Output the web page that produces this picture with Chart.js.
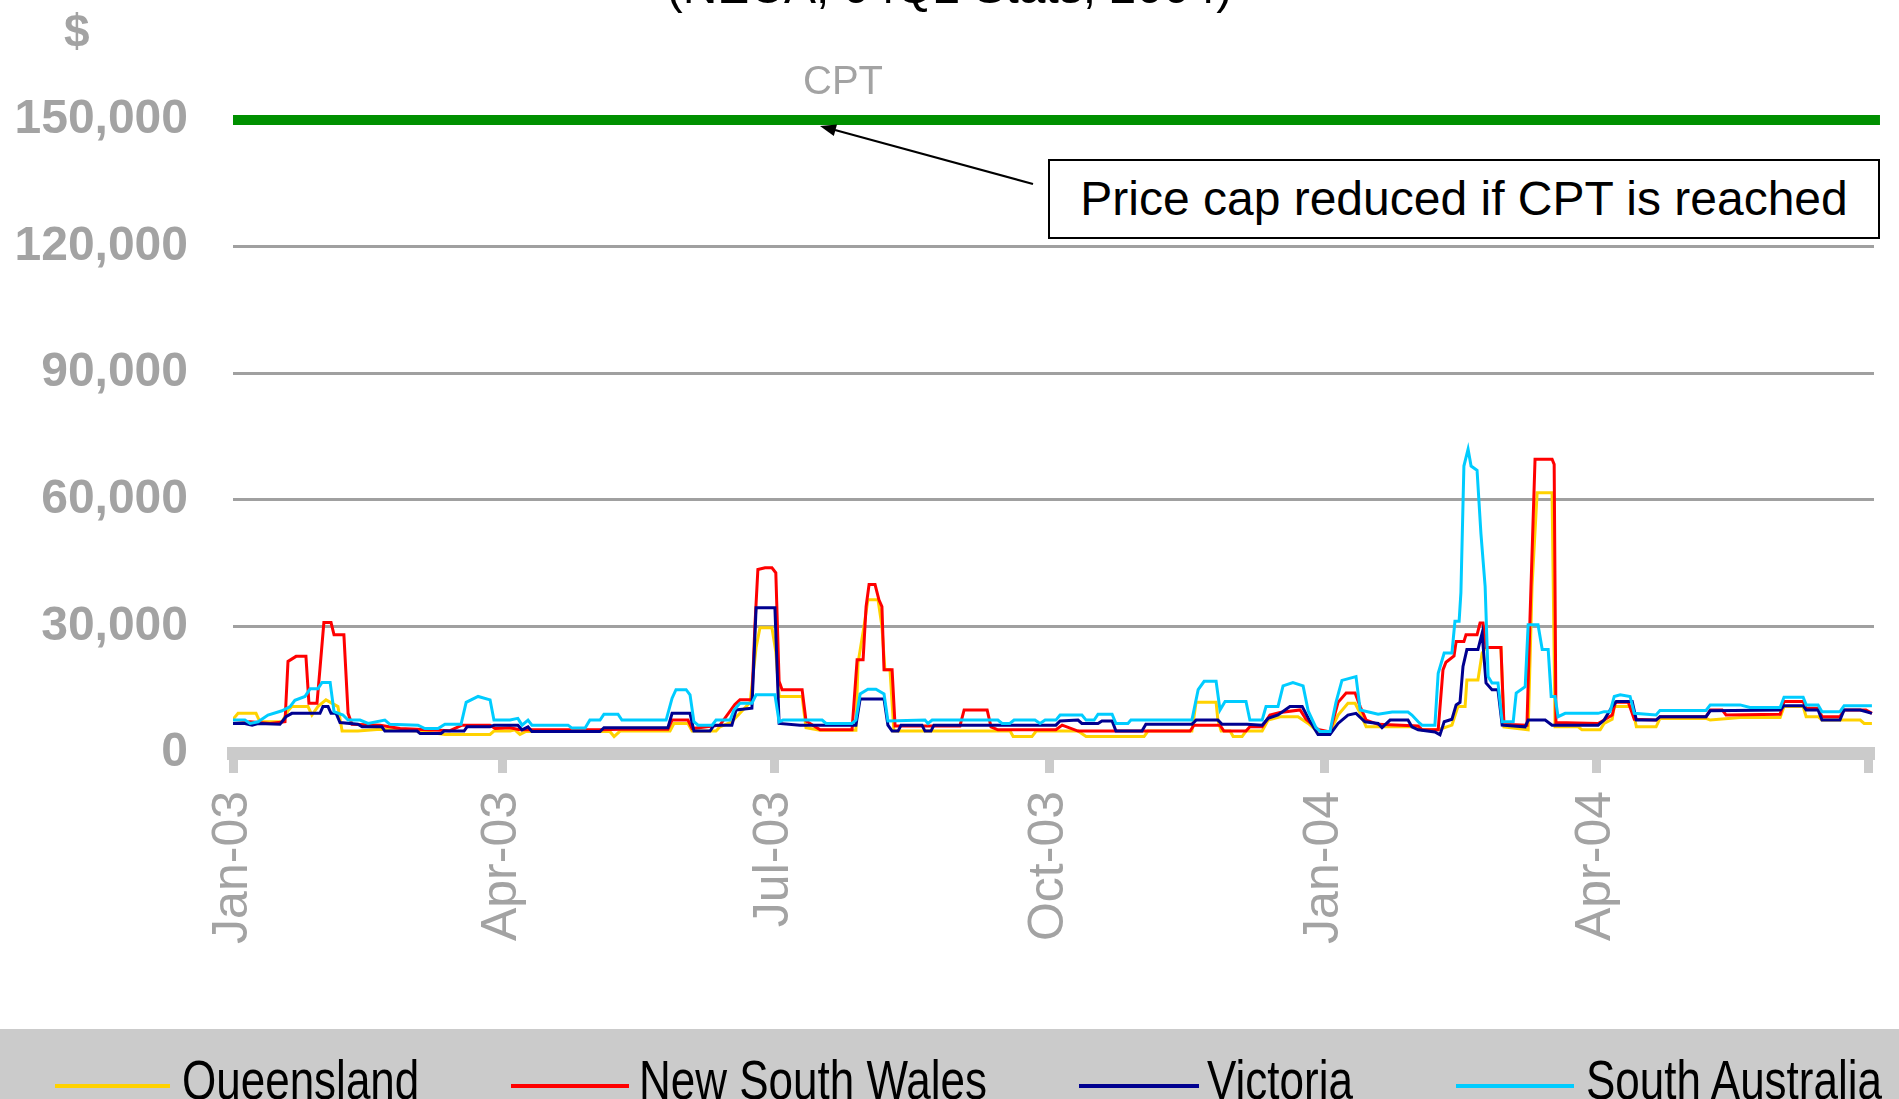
<!DOCTYPE html>
<html lang="en">
<head>
<meta charset="UTF-8">
<title>Cumulative Price Threshold - NEM regions</title>
<script src="https://cdn.jsdelivr.net/npm/chart.js"></script>
<style>
  html, body { margin: 0; padding: 0; background: #fff; }
  body { width: 1899px; height: 1099px; overflow: hidden; position: relative; font-family: "Liberation Sans", Arial, sans-serif; }
  #chart { position: absolute; left: 0; top: 0; }
  .txt { position: absolute; white-space: nowrap; line-height: 1; }
  #title { left: 0; width: 1899px; top: -37px; text-align: center; font-size: 48px; color: #000; }
  #dollar { left: 64px; top: 8px; font-size: 46px; font-weight: bold; color: #a3a3a3; }
  #cpt { left: 803px; top: 60px; font-size: 40px; color: #a3a3a3; }
  #note { position: absolute; left: 1048px; top: 159px; width: 828px; height: 76px; border: 2px solid #000; background: #fff;
          font-size: 48px; line-height: 76px; text-align: center; white-space: nowrap; }
  #legend { position: absolute; left: 0; top: 1029px; width: 1899px; height: 70px; background: #cbcbcb; }
  .swatch { position: absolute; height: 4px; top: 55px; }
  .ltxt { position: absolute; top: 24px; font-size: 44px; line-height: 44px; color: #000; white-space: nowrap;
          transform: scaleY(1.25); transform-origin: 0 0; }
</style>
</head>
<body>
<canvas id="chart" width="1899" height="1099"></canvas>
<svg style="position:absolute;left:0;top:0" width="1899" height="1099">
  <line x1="1033" y1="184" x2="835" y2="130" stroke="#000" stroke-width="2.2"/>
  <polygon points="820,126 837,124.4 833.8,136" fill="#000"/>
</svg>
<div class="txt" id="title">(NECA, 04Q2 Stats, 2004)</div>
<div class="txt" id="dollar">$</div>
<div class="txt" id="cpt">CPT</div>
<div id="note">Price cap reduced if CPT is reached</div>
<div id="legend"></div>

<script>
// days since 1 Jan 2003, rolling cumulative price ($)
const queensland = [[0,8000],[1.7,9400],[7.7,9400],[9,7400],[16.4,7400],[18.4,10000],[19.7,11000],[25.1,11000],[26.4,9000],[28.4,11000],[31.1,12600],[35.1,11000],[36.5,5200],[41.8,5200],[49.2,5600],[62.6,5200],[70.9,4400],[86,4400],[87.3,5200],[92.7,5200],[94.3,5500],[96,4400],[98,5100],[126.1,5100],[127.5,3900],[129.5,5200],[146.2,5200],[147.5,7000],[152.2,7000],[153.6,5200],[161.6,5200],[162.9,6200],[166.9,7400],[173,12000],[175,25000],[176.3,29700],[180.3,29700],[181.6,24000],[182.7,13400],[190.4,13400],[191.7,6000],[196.4,5400],[208.4,5400],[209.1,21300],[211.1,30000],[212.4,36300],[215.8,36300],[217.1,30000],[218.1,19700],[219.8,19700],[221.1,5200],[260,5200],[261,3900],[267.3,3900],[268.7,5200],[282.7,5200],[285.4,3900],[304.8,3900],[306.1,5200],[320.8,5200],[322.2,12000],[328.9,12000],[329.5,7800],[330.6,5200],[333.6,5200],[334.6,3900],[337.6,3900],[338.9,5200],[344.3,5200],[346.3,7800],[350.3,8600],[356.3,8600],[359.7,7000],[363,5000],[367,5000],[369.7,9000],[373,11800],[375.4,11800],[377.1,9400],[379.1,6200],[396.5,6200],[397.8,5500],[403.2,5500],[407.8,6600],[409.8,11000],[412.2,11000],[412.8,17300],[416.5,17300],[417.9,23700],[419.2,25000],[424.2,25000],[425.2,6200],[433.3,5500],[434.6,39500],[436.3,61700],[441.3,61700],[442.3,6200],[450,6200],[451.3,5500],[457.4,5500],[458.7,7000],[461.4,8000],[462.1,11000],[468.1,11000],[469.5,6200],[476.1,6200],[477.4,8200],[492.8,8200],[494.2,7800],[504.2,8400],[517.6,8400],[518.9,11000],[525.3,11000],[526.3,8600],[530.3,8600],[531.6,7800],[544.4,7800],[545.7,7000],[548.3,7000]];

const newSouthWales = [[0,7000],[5.7,7400],[12.4,7000],[17.4,7400],[18.4,21700],[21.1,22900],[24.4,22900],[25.4,11800],[28.1,11800],[29.1,20000],[30.4,30900],[32.8,30900],[33.8,28000],[37.1,28000],[38.5,9400],[39.8,6800],[49.2,6600],[55.9,5800],[72.6,5300],[76.6,6600],[86,6600],[87.7,5800],[92.7,6000],[96,5500],[122.8,5500],[129.5,5600],[145.5,5600],[146.9,7800],[152.2,7800],[153.6,5800],[162.9,6600],[167.9,11500],[169.6,12600],[173.6,12600],[174.6,30000],[175.6,43500],[178,43900],[180.3,43900],[181.6,42700],[182.7,17000],[183.7,15000],[190.4,15000],[191.7,7600],[196.4,5500],[207.1,5500],[208.8,22100],[210.8,22100],[211.8,34700],[212.8,39900],[214.8,39900],[216.1,36300],[217.1,34700],[217.8,19700],[220.5,19700],[221.5,6400],[243.2,6400],[244.6,10200],[252.3,10200],[253.6,6200],[255.9,5500],[275.3,5500],[277.4,6600],[282.7,5200],[320.2,5200],[321.5,6600],[330.2,6600],[331.5,5200],[338.9,5200],[340.2,6200],[344.3,6200],[346.9,9000],[350.3,9600],[357,10200],[359,8000],[363,5600],[367,5000],[369.7,12000],[372.4,14200],[375.4,14200],[377.1,11000],[379.1,7800],[383.1,6800],[396.5,6400],[397.8,5500],[403.2,5500],[404.8,19700],[405.8,21500],[408.5,23000],[409.2,26400],[411.8,26400],[412.5,28000],[416.2,28000],[417.2,30800],[418.2,30800],[419.2,25000],[424.2,25000],[425.2,6800],[432.9,6600],[433.9,31600],[435.6,69600],[441.3,69600],[442,68400],[442.6,7200],[456.7,7000],[458.7,7800],[461.4,9000],[462.5,12000],[466.8,12000],[468.8,8000],[476.1,7800],[477.4,8600],[492.8,8600],[494.2,10200],[498.2,10200],[499.5,9000],[517.6,9200],[518.9,12200],[525.3,12200],[526.3,10600],[530.3,10600],[531.6,8600],[537.6,8600],[539,10200],[546.3,10200],[548.3,9400]];

const victoria = [[0,7000],[4,7000],[6.4,6600],[8.4,7000],[15.7,6800],[17.7,8600],[19.7,9400],[29.1,9400],[30.1,11000],[31.8,11000],[32.8,9400],[34.5,9400],[35.8,7200],[41.8,6800],[43.2,6200],[49.8,6200],[50.8,5200],[61.6,5200],[62.6,4600],[69.6,4600],[70.6,5200],[77.3,5200],[78.3,6200],[86,6200],[87.3,6600],[95.3,6600],[96.7,5500],[98.7,6200],[100,5100],[122.8,5100],[124.1,6000],[145.5,6000],[146.9,9400],[152.9,9400],[154.2,5200],[159.6,5200],[160.9,6600],[166.9,6600],[168.3,10200],[173.6,10600],[175,34400],[181.3,34400],[182.7,7000],[189.7,6600],[208.4,6600],[209.8,12800],[217.8,12800],[219.1,6600],[220.5,5200],[222.5,5200],[223.5,6600],[230.5,6600],[231.5,5200],[233.5,5200],[234.5,6600],[275.3,6600],[276.7,7600],[282.7,7800],[284,7000],[289.4,7000],[290.7,7600],[294.1,7600],[295.4,5200],[304.1,5200],[305.4,6800],[320.8,6800],[322.2,7800],[329.5,7800],[330.9,6800],[339.2,6800],[344.3,6600],[346.3,8200],[349.6,9000],[353.6,11000],[357.7,11000],[360.3,7500],[363,4400],[367,4400],[369.7,7000],[373,9000],[375.7,9400],[378.7,7400],[383.1,7000],[384.4,6000],[387.1,7800],[393.1,7800],[394.4,6200],[396.5,5500],[402.1,5000],[403.8,4300],[405.2,7400],[407.8,8000],[409.2,11400],[410.5,12000],[411.5,20500],[412.8,24500],[416.5,24500],[417.9,28400],[419.2,16600],[421.2,15000],[423.2,15000],[424.6,6600],[432.3,6200],[433.3,7800],[439,7800],[441.3,6600],[456.7,6600],[458.7,7800],[461.4,11000],[462.8,12200],[468.1,12200],[469.5,7800],[476.1,7800],[477.4,8600],[492.8,8600],[494.2,10000],[517.6,10200],[518.9,11200],[525.3,11200],[526.3,10200],[530.3,10200],[531.6,7800],[537.6,7800],[539,10200],[544.4,10200],[548.3,9400]];

const southAustralia = [[0,7800],[4,7800],[5.7,7000],[8.4,7400],[11.7,9000],[16.4,10000],[19.1,11000],[20.7,12500],[24.1,13400],[25.8,15200],[28.4,15200],[29.8,16700],[32.5,16700],[33.8,9800],[36.8,9000],[38.5,7800],[42.5,7800],[45.2,7000],[50.8,7800],[52.5,6800],[61.9,6600],[64.2,5800],[68.6,5800],[70.9,6800],[76.3,6800],[78,12000],[82,13400],[86,12600],[87.3,7800],[92.7,7800],[95.3,8200],[96.7,6600],[98.7,7800],[100,6600],[112.1,6600],[113.4,5900],[117.8,5900],[119.4,7800],[122.8,7800],[124.1,9200],[128.8,9200],[130.1,7800],[144.9,7800],[146.9,13000],[148.2,15000],[151.6,15000],[152.9,13800],[154.2,7400],[155.6,6600],[160.3,6600],[161.6,7800],[166.3,7800],[167.6,10200],[169.6,11800],[173.6,11800],[175,13800],[181.3,13800],[182.7,7400],[184,7800],[197.1,7800],[198.4,7000],[207.1,7000],[208.4,7800],[209.8,14000],[212.4,15100],[215.1,15100],[217.8,14000],[219.1,7600],[231.5,7800],[232.5,7000],[233.9,7800],[255.9,7800],[257.3,7000],[259.9,7000],[261.3,7800],[268.3,7800],[270,7000],[271.7,7800],[275.3,7800],[276.7,9000],[284,9000],[285.4,7800],[288.1,7800],[289.4,9200],[294.1,9200],[295.4,7000],[299.4,7000],[300.4,7800],[320.8,7800],[322.9,15000],[324.9,17000],[328.9,17000],[330.2,10200],[331.9,12200],[338.9,12200],[340.2,7800],[344.3,7800],[345.6,11000],[349.6,11000],[351.3,15900],[354.6,16700],[358,15900],[359.7,10000],[362.3,6000],[363.7,5100],[367,5100],[369,12000],[371,17200],[375.7,18100],[377.1,10200],[383.1,9200],[387.8,9700],[393.1,9700],[394.4,9000],[396.5,7400],[397.8,6600],[402.1,6600],[403.2,18900],[405.2,23700],[407.8,23700],[408.8,31200],[410.2,31200],[410.8,38000],[411.8,68000],[413.2,72000],[414.2,68000],[416.2,67000],[417.5,52000],[418.9,39500],[419.9,18100],[421.2,16600],[423.2,16600],[424.6,7400],[428.3,7400],[429.3,14200],[432.3,15700],[433.3,30400],[436.6,30400],[438,24500],[440,24500],[441,13400],[442.3,13400],[443.3,8600],[445.7,9400],[456.7,9400],[458.7,9800],[460.7,9800],[462.1,13400],[464.1,13800],[467.4,13400],[468.8,9400],[476.1,9000],[477.4,10100],[492.8,10100],[494.2,11400],[504.2,11400],[507.5,10800],[517.6,10800],[518.9,13200],[525.3,13200],[526.3,11400],[530.3,11400],[531.6,9800],[537.6,9800],[539,11200],[548.3,11200]];

const cptLevel = 150000;
const cptSpan = [0, 551];

const tickDays = [0, 90, 181, 273, 365, 456, 547];
const tickLabels = ['Jan-03', 'Apr-03', 'Jul-03', 'Oct-03', 'Jan-04', 'Apr-04', ''];

const regions = [
  { name: 'Queensland', data: queensland, color: '#FFD200' },
  { name: 'New South Wales', data: newSouthWales, color: '#FF0000' },
  { name: 'Victoria', data: victoria, color: '#000090' },
  { name: 'South Australia', data: southAustralia, color: '#00CCFF' }
];

const grey = '#a3a3a3';
const toPoints = arr => arr.map(p => ({ x: p[0], y: p[1] }));

const datasets = regions.map((r, i) => ({
  label: r.name,
  data: toPoints(r.data),
  borderColor: r.color,
  backgroundColor: r.color,
  borderWidth: 3,
  pointRadius: 0,
  tension: 0,
  order: 10 - i
}));
datasets.push({
  label: 'CPT',
  data: cptSpan.map(d => ({ x: d, y: cptLevel })),
  borderColor: '#009000',
  borderWidth: 10,
  pointRadius: 0,
  clip: false,
  order: 0
});

new Chart(document.getElementById('chart'), {
  type: 'line',
  data: { datasets: datasets },
  options: {
    responsive: false,
    animation: false,
    devicePixelRatio: 1,
    layout: { padding: { top: 120, right: 25, bottom: 0, left: 0 } },
    plugins: { legend: { display: false }, tooltip: { enabled: false } },
    scales: {
      x: {
        type: 'linear',
        min: 0,
        max: 549,
        afterFit: s => { s.height = 346; s.paddingLeft = 0; s.paddingRight = 0; },
        afterBuildTicks: s => { s.ticks = tickDays.map(v => ({ value: v })); },
        grid: { drawOnChartArea: false, drawTicks: true, tickLength: 20, tickWidth: 9, tickColor: '#cbcbcb' },
        border: { display: true, color: '#cbcbcb', width: 13 },
        ticks: {
          autoSkip: false,
          minRotation: 90,
          maxRotation: 90,
          padding: 18,
          color: grey,
          font: { family: 'Liberation Sans', size: 50 },
          callback: (v, i) => tickLabels[i]
        }
      },
      y: {
        min: 0,
        max: 150000,
        afterFit: s => { s.width = 233; s.paddingTop = 0; s.paddingBottom = 0; },
        grid: {
          drawTicks: false,
          lineWidth: 3,
          color: c => (c.tick && c.tick.value > 0 && c.tick.value < 150000) ? '#a0a0a0' : 'rgba(0,0,0,0)'
        },
        border: { display: false },
        ticks: {
          stepSize: 30000,
          padding: 45,
          color: grey,
          font: { family: 'Liberation Sans', size: 48, weight: 'bold' },
          callback: v => v.toLocaleString('en-US')
        }
      }
    }
  }
});

// legend strip along the bottom
const legendPos = [
  { sw: [55, 170], tx: 182 },
  { sw: [511, 629], tx: 639 },
  { sw: [1079, 1199], tx: 1207 },
  { sw: [1456, 1574], tx: 1586 }
];
const legend = document.getElementById('legend');
regions.forEach((r, i) => {
  const p = legendPos[i];
  const sw = document.createElement('div');
  sw.className = 'swatch';
  sw.style.left = p.sw[0] + 'px';
  sw.style.width = (p.sw[1] - p.sw[0]) + 'px';
  sw.style.background = r.color;
  legend.appendChild(sw);
  const t = document.createElement('div');
  t.className = 'ltxt';
  t.style.left = p.tx + 'px';
  t.textContent = r.name;
  legend.appendChild(t);
});
</script>
</body>
</html>
